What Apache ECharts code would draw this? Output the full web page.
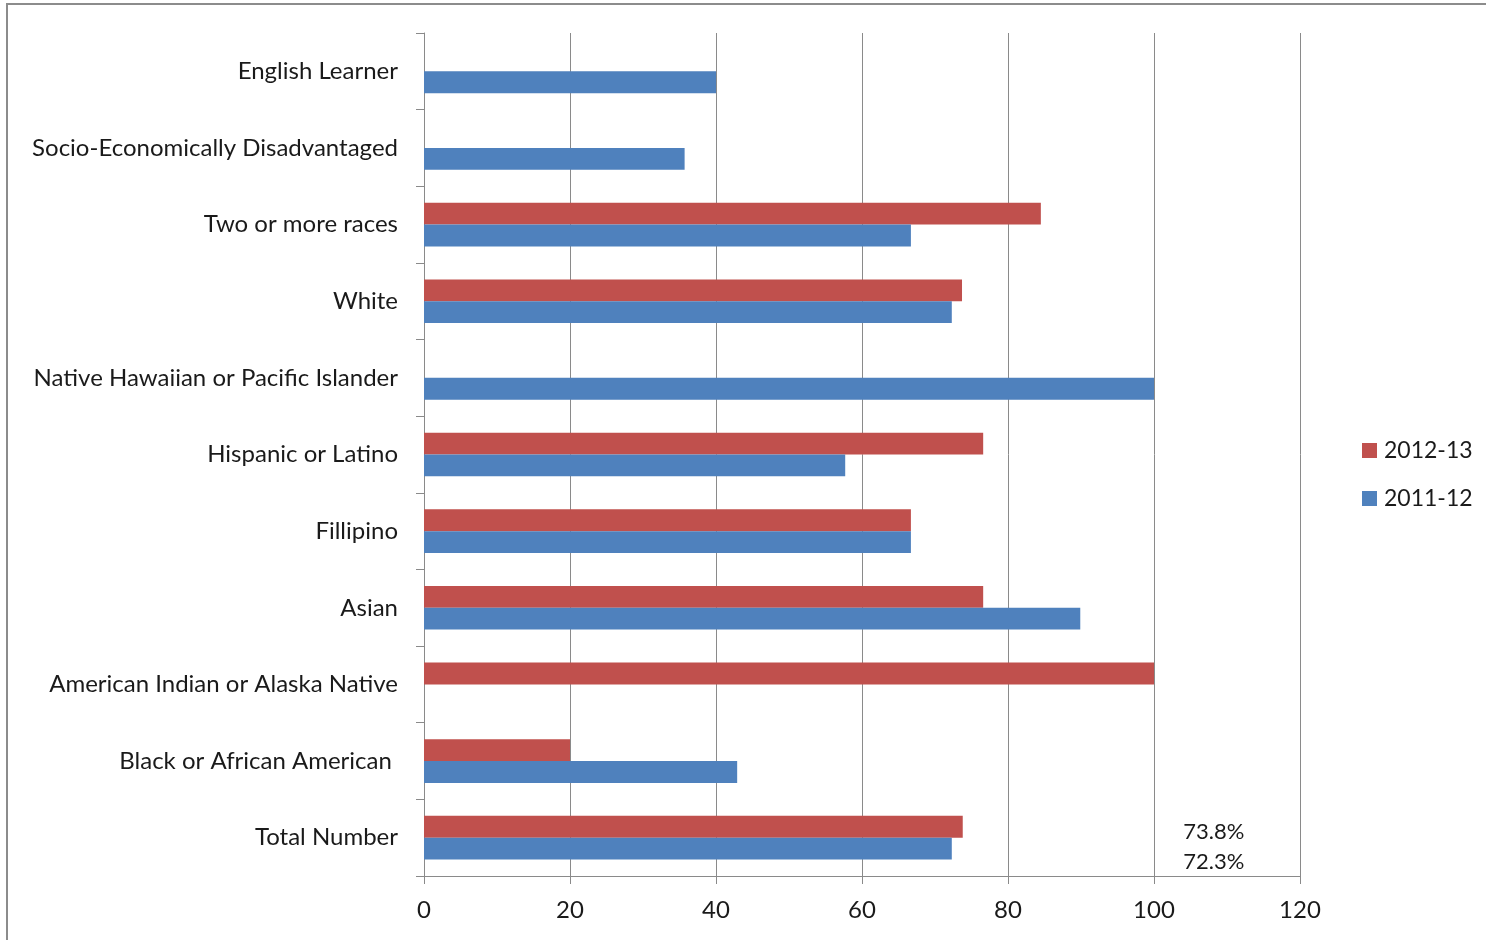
<!DOCTYPE html>
<html>
<head>
<meta charset="utf-8">
<script src="https://cdn.jsdelivr.net/npm/echarts@6/dist/echarts.min.js"></script>
<style>
  html, body { margin: 0; padding: 0; background: #fff; }
  #frame { position: absolute; left: 6px; top: 3px; width: 1500px; height: 960px; border: 2px solid #8c8c8c; box-sizing: border-box; }
  #chart { position: absolute; left: 0; top: 0; width: 1486px; height: 940px; }
</style>
</head>
<body>
<div id="frame"></div>
<div id="chart"></div>
<script>
// Student groups, listed bottom to top along the category axis
const categories = [
  'Total Number',
  'Black or African American ',
  'American Indian or Alaska Native',
  'Asian',
  'Fillipino',
  'Hispanic or Latino',
  'Native Hawaiian or Pacific Islander',
  'White',
  'Two or more races',
  'Socio-Economically Disadvantaged',
  'English Learner'
];
// Rates by school year (null = no value reported)
const values2012_13 = [73.8, 20, 100, 76.6, 66.7, 76.6, null, 73.7, 84.5, null, null];
const values2011_12 = [72.3, 42.9, null, 89.9, 66.7, 57.7, 100, 72.3, 66.7, 35.7, 40];
const xTicks = [0, 20, 40, 60, 80, 100, 120];
const seriesNames = ['2012-13', '2011-12'];

const FONT = 'Lato';
const TEXT = '#1a1a1a';
const GRID = '#8a8a8a';

const chart = echarts.init(document.getElementById('chart'), null, { renderer: 'canvas' });

chart.setOption({
  animation: false,
  textStyle: { fontFamily: FONT },
  grid: { left: 424, right: 186, top: 33, bottom: 64, containLabel: false },
  legend: {
    orient: 'vertical',
    left: 1357,
    top: 434,
    data: seriesNames,
    icon: 'rect',
    itemWidth: 15,
    itemHeight: 15,
    itemGap: 25,
    textStyle: { fontFamily: FONT, fontSize: 23, color: TEXT, padding: [0, 0, 0, 2] }
  },
  xAxis: {
    type: 'value',
    min: xTicks[0],
    max: xTicks[xTicks.length - 1],
    interval: xTicks[1] - xTicks[0],
    axisLine: { show: true, lineStyle: { color: GRID, width: 1 } },
    axisTick: { show: true, length: 8, lineStyle: { color: GRID } },
    axisLabel: { fontFamily: FONT, fontSize: 24, color: TEXT, margin: 22 },
    splitLine: { show: true, lineStyle: { color: GRID, width: 1 } }
  },
  yAxis: {
    type: 'category',
    data: categories,
    axisLine: { show: true, lineStyle: { color: GRID, width: 1 } },
    axisTick: { show: true, length: 8, lineStyle: { color: GRID } },
    axisLabel: { fontFamily: FONT, fontSize: 24, color: TEXT, margin: 26 },
    splitLine: { show: false }
  },
  series: [
    {
      name: '2012-13',
      type: 'bar',
      data: values2012_13,
      barGap: '0%',
      barCategoryGap: '43%',
      itemStyle: { color: '#c0504d' }
    },
    {
      name: '2011-12',
      type: 'bar',
      data: values2011_12,
      barGap: '0%',
      barCategoryGap: '43%',
      itemStyle: { color: '#4f81bd' }
    },
    {
      // percentage notes beside the Total Number bars
      name: 'totals',
      type: 'scatter',
      symbolSize: 0,
      silent: true,
      itemStyle: { opacity: 1 },
      data: [
        { value: [104, categories[0]], text: values2012_13[0], label: { offset: [0, -6] } },
        { value: [104, categories[0]], text: values2011_12[0], label: { offset: [0, 24] } }
      ],
      label: {
        show: true,
        position: 'right',
        distance: 0,
        fontFamily: FONT,
        fontSize: 22,
        color: TEXT,
        opacity: 1,
        textBorderWidth: 0,
        formatter: p => p.data.text.toFixed(1) + '%'
      }
    }
  ]
});
</script>
</body>
</html>
